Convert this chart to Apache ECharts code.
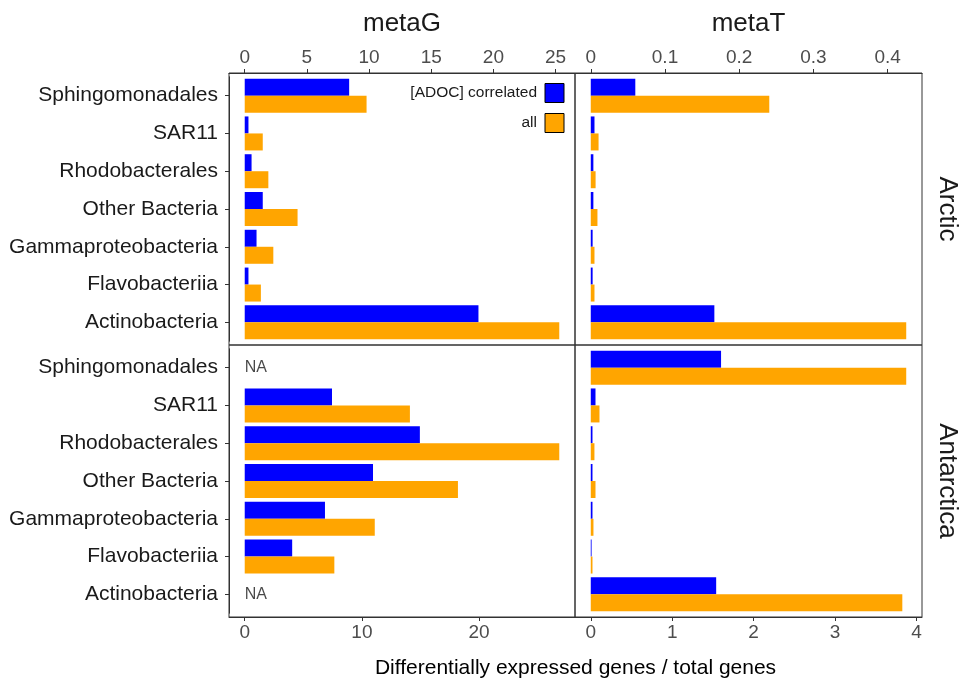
<!DOCTYPE html>
<html>
<head>
<meta charset="utf-8">
<script src="https://cdn.jsdelivr.net/npm/echarts@6/dist/echarts.min.js"></script>
<style>
html,body{margin:0;padding:0;background:#fff;}
#chart{width:966px;height:682px;}
</style>
</head>
<body>
<div id="chart"></div>
<script>
const categories = ['Sphingomonadales','SAR11','Rhodobacterales','Other Bacteria','Gammaproteobacteria','Flavobacteriia','Actinobacteria'];
const seriesNames = ['[ADOC] correlated','all'];
const columnLabels = ['metaG','metaT'];
const rowLabels = ['Arctic','Antarctica'];
const axisTitle = 'Differentially expressed genes / total genes';

const metaG_arctic_corr = [8.4, 0.3, 0.55, 1.45, 0.95, 0.3, 18.8];
const metaG_arctic_all = [9.8, 1.45, 1.9, 4.25, 2.3, 1.3, 25.3];
const metaT_arctic_corr = [0.06, 0.005, 0.0035, 0.0035, 0.0025, 0.0025, 0.1665];
const metaT_arctic_all = [0.2405, 0.0105, 0.0065, 0.009, 0.005, 0.005, 0.425];
const metaG_antarctica_corr = [null, 7.45, 14.95, 10.95, 6.85, 4.05, null];
const metaG_antarctica_all = [null, 14.1, 26.85, 18.2, 11.1, 7.65, null];
const metaT_antarctica_corr = [1.6, 0.058, 0.021, 0.021, 0.021, 0.01, 1.54];
const metaT_antarctica_all = [3.874, 0.107, 0.045, 0.058, 0.033, 0.021, 3.826];

const metaG_arctic_ticks = [0, 5, 10, 15, 20, 25];
const metaT_arctic_ticks = [0, 0.1, 0.2, 0.3, 0.4];
const metaG_antarctica_ticks = [0, 10, 20];
const metaT_antarctica_ticks = [0, 1, 2, 3, 4];

const FONT = 'Liberation Sans, Arial, Helvetica, sans-serif';
const BLUE = '#0000FF', ORANGE = '#FFA500';

function dom(a, b) {
  const m = Math.max(...a.concat(b).filter(v => v != null));
  return [-0.05 * m, 1.05 * m];
}

// panel layout
const PL = [229, 575], PW = [346, 347];
const PT = [73, 345], PH = 272;
const unit = PH / 7.2;
const inset = 0.1 * unit;
const innerH = 7 * unit;

const panels = [
  {c: 0, r: 0, corr: metaG_arctic_corr, all: metaG_arctic_all, ticks: metaG_arctic_ticks, pos: 'top'},
  {c: 1, r: 0, corr: metaT_arctic_corr, all: metaT_arctic_all, ticks: metaT_arctic_ticks, pos: 'top'},
  {c: 0, r: 1, corr: metaG_antarctica_corr, all: metaG_antarctica_all, ticks: metaG_antarctica_ticks, pos: 'bottom'},
  {c: 1, r: 1, corr: metaT_antarctica_corr, all: metaT_antarctica_all, ticks: metaT_antarctica_ticks, pos: 'bottom'}
];

const grid = [], xAxis = [], yAxis = [], series = [];
panels.forEach((p, i) => {
  grid.push({left: PL[p.c], width: PW[p.c], top: PT[p.r] + inset, height: innerH, show: false, containLabel: false});
  const d = dom(p.corr, p.all);
  xAxis.push({
    type: 'value', gridIndex: i, position: p.pos, offset: inset, min: d[0], max: d[1],
    splitLine: {show: false},
    axisLine: {show: true, onZero: false, lineStyle: {color: '#333', width: 1}},
    axisTick: {show: true, length: 4, customValues: p.ticks, lineStyle: {color: '#333'}},
    axisLabel: {show: true, customValues: p.ticks, margin: 6, fontSize: 19, color: '#4d4d4d', fontFamily: FONT}
  });
  yAxis.push({
    type: 'category', gridIndex: i, data: categories, inverse: true,
    axisLine: {show: p.c === 0, onZero: false, lineStyle: {color: '#333'}},
    axisTick: {show: p.c === 0, alignWithLabel: true, length: 4, lineStyle: {color: '#333'}},
    axisLabel: {show: p.c === 0, margin: 11, fontSize: 21, color: '#1a1a1a', fontFamily: FONT},
    splitLine: {show: false}
  });
  series.push({
    type: 'bar', name: seriesNames[0], xAxisIndex: i, yAxisIndex: i, data: p.corr,
    itemStyle: {color: BLUE}, barGap: '0%', barCategoryGap: '10%', silent: true
  });
  series.push({
    type: 'bar', name: seriesNames[1], xAxisIndex: i, yAxisIndex: i, data: p.all,
    itemStyle: {color: ORANGE}, barGap: '0%', barCategoryGap: '10%', silent: true
  });
  const naPts = [];
  categories.forEach((c, k) => { if (p.corr[k] == null && p.all[k] == null) naPts.push([0, c]); });
  if (naPts.length) {
    series.push({
      type: 'scatter', xAxisIndex: i, yAxisIndex: i, data: naPts, symbolSize: 0.1, silent: true,
      itemStyle: {color: 'rgba(0,0,0,0)'},
      label: {show: true, formatter: 'NA', position: 'right', distance: 0, fontSize: 16, color: '#1a1a1a', fontFamily: FONT}
    });
  }
});
// border grids
panels.forEach((p, i) => {
  const gi = grid.length;
  grid.push({left: PL[p.c], width: PW[p.c], top: PT[p.r], height: PH, show: true, borderColor: '#333', borderWidth: 1, backgroundColor: 'transparent', z: 5});
  xAxis.push({type: 'value', gridIndex: gi, show: false});
  yAxis.push({type: 'value', gridIndex: gi, show: false});
});

const graphic = [];
columnLabels.forEach((t, c) => {
  graphic.push({type: 'text', x: PL[c] + PW[c] / 2, y: 24, style: {text: t, font: '26px ' + FONT, fill: '#1a1a1a', align: 'center', verticalAlign: 'middle'}});
});
rowLabels.forEach((t, r) => {
  graphic.push({type: 'text', x: 947, y: PT[r] + PH / 2, rotation: -Math.PI / 2, style: {text: t, font: '26px ' + FONT, fill: '#1a1a1a', align: 'center', verticalAlign: 'middle'}});
});
graphic.push({type: 'text', x: (PL[0] + PL[1] + PW[1]) / 2, y: 668, style: {text: axisTitle, font: '21px ' + FONT, fill: '#000', align: 'center', verticalAlign: 'middle'}});

const chart = echarts.init(document.getElementById('chart'), null, {renderer: 'canvas'});
chart.setOption({
  animation: false,
  backgroundColor: '#fff',
  grid, xAxis, yAxis, series, graphic,
  legend: {
    data: seriesNames, orient: 'vertical', right: 966 - 564.5 - 5, top: 78, align: 'right',
    itemWidth: 19, itemHeight: 19, itemGap: 10, icon: 'rect',
    itemStyle: {borderColor: '#000', borderWidth: 1},
    textStyle: {fontSize: 15.5, color: '#1a1a1a', fontFamily: FONT, padding: [0, 3, 0, 0]},
    selectedMode: false
  }
});
</script>
</body>
</html>
